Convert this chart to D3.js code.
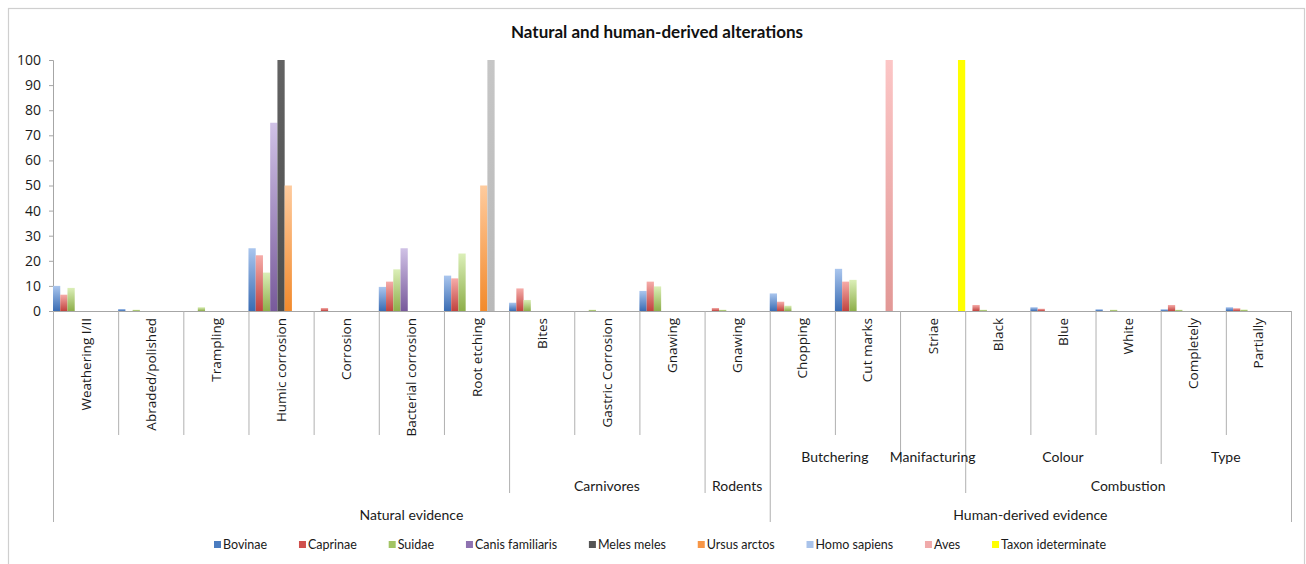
<!DOCTYPE html>
<html>
<head>
<meta charset="utf-8">
<script src="https://cdn.jsdelivr.net/npm/d3@7"></script>
<style>
  body { margin: 0; background: #fff; }
  svg { display: block; }
</style>
</head>
<body>
<div id="chart"></div>
<script>
'use strict';

// leaf categories of the x axis
const categories = ["Weathering I/II", "Abraded/polished", "Trampling", "Humic corrosion", "Corrosion",
  "Bacterial corrosion", "Root etching", "Bites", "Gastric Corrosion", "Gnawing", "Gnawing",
  "Chopping", "Cut marks", "Striae", "Black", "Blue", "White", "Completely", "Partially"];

// group levels (one entry per category, "" = empty cell)
const level2 = ["", "", "", "", "", "", "", "", "", "", "", "Butchering", "Butchering", "Manifacturing",
  "Colour", "Colour", "Colour", "Type", "Type"];
const level3 = ["", "", "", "", "", "", "", "Carnivores", "Carnivores", "Carnivores", "Rodents",
  "", "", "", "Combustion", "Combustion", "Combustion", "Combustion", "Combustion"];
const level4 = ["Natural evidence", "Natural evidence", "Natural evidence", "Natural evidence", "Natural evidence",
  "Natural evidence", "Natural evidence", "Natural evidence", "Natural evidence", "Natural evidence", "Natural evidence",
  "Human-derived evidence", "Human-derived evidence", "Human-derived evidence", "Human-derived evidence",
  "Human-derived evidence", "Human-derived evidence", "Human-derived evidence", "Human-derived evidence"];

const seriesNames = ["Bovinae", "Caprinae", "Suidae", "Canis familiaris", "Meles meles", "Ursus arctos",
  "Homo sapiens", "Aves", "Taxon ideterminate"];

const bovinae  = [10, 0.8, 0, 25, 0, 9.6, 14.1, 3.3, 0, 8, 0, 7, 16.8, 0, 0, 1.5, 0.7, 0.7, 1.5];
const caprinae = [6.5, 0, 0, 22.2, 1.2, 11.7, 13, 9, 0, 11.7, 1.2, 3.7, 11.7, 0, 2.4, 0.9, 0, 2.4, 1.1];
const suidae   = [9.2, 0.5, 1.5, 15.3, 0, 16.6, 22.9, 4.4, 0.5, 9.8, 0.5, 2.1, 12.4, 0, 0.5, 0, 0.5, 0.5, 0.6];
const canis    = [0, 0, 0, 75, 0, 25, 0, 0, 0, 0, 0, 0, 0, 0, 0, 0, 0, 0, 0];
const meles    = [0, 0, 0, 100, 0, 0, 0, 0, 0, 0, 0, 0, 0, 0, 0, 0, 0, 0, 0];
const ursus    = [0, 0, 0, 50, 0, 0, 50, 0, 0, 0, 0, 0, 0, 0, 0, 0, 0, 0, 0];
const homo     = [0, 0, 0, 0, 0, 0, 100, 0, 0, 0, 0, 0, 0, 0, 0, 0, 0, 0, 0];
const aves     = [0, 0, 0, 0, 0, 0, 0, 0, 0, 0, 0, 0, 100, 0, 0, 0, 0, 0, 0];
const taxon    = [0, 0, 0, 0, 0, 0, 0, 0, 0, 0, 0, 0, 0, 100, 0, 0, 0, 0, 0];

const yTicks = [0, 10, 20, 30, 40, 50, 60, 70, 80, 90, 100];

const allSeries = [bovinae, caprinae, suidae, canis, meles, ursus, homo, aves, taxon];

// bar gradients [top, bottom] and legend swatches
const barColors = [
  ["#aac6ee", "#3a6cb3"], ["#f6aca9", "#c1423e"], ["#dbefb8", "#8dae4a"],
  ["#d0c2e6", "#785a9b"], ["#636363", "#4e4e4e"], ["#fecb9e", "#f28a2c"],
  ["#c6c6c6", "#b9b9b9"], ["#fcc6c6", "#e29896"], ["#ffff00", "#ffff00"]];
const legendColors = ["#4a7cc0", "#d0504c", "#a3c464", "#8e72b0", "#555555", "#f79646",
  "#a9c3ea", "#f0aaaa", "#ffff00"];

const W = 1306, H = 564;
const plot = {left: 53, right: 1291, top: 60, bottom: 311};

const svg = d3.select("#chart").append("svg").attr("width", W).attr("height", H);

// gradients
const defs = svg.append("defs");
barColors.forEach((c, i) => {
  const g = defs.append("linearGradient").attr("id", "grad" + i)
    .attr("x1", 0).attr("y1", 0).attr("x2", 0).attr("y2", 1);
  g.append("stop").attr("offset", "0%").attr("stop-color", c[0]);
  g.append("stop").attr("offset", "100%").attr("stop-color", c[1]);
});

// outer frame
svg.append("rect").attr("x", 8.5).attr("y", 8.5).attr("width", 1296).attr("height", 600)
  .attr("fill", "none").attr("stroke", "#cfcfcf").attr("stroke-width", 1.2);

// title
svg.append("text").attr("x", 657).attr("y", 38).attr("text-anchor", "middle")
  .style("font-family", "Lato, sans-serif").style("font-weight", "bold").style("font-size", "17px")
  .attr("fill", "#111").text("Natural and human-derived alterations");

const x = d3.scaleBand().domain(d3.range(categories.length)).range([plot.left, plot.right]).padding(0);
const xs = d3.scaleBand().domain(d3.range(seriesNames.length)).range([0, x.bandwidth()]).padding(0);
const y = d3.scaleLinear().domain([0, 100]).range([plot.bottom, plot.top]);

// y axis
const yAxis = svg.append("g").attr("transform", "translate(" + plot.left + ",0)")
  .call(d3.axisLeft(y).tickValues(yTicks).tickSize(4).tickPadding(8));
yAxis.select(".domain").attr("stroke", "#a6a6a6");
yAxis.selectAll(".tick line").attr("stroke", "#a6a6a6");
yAxis.selectAll(".tick text").style("font-family", "'Open Sans', sans-serif").style("font-size", "14px")
  .attr("fill", "#1a1a1a");

// bars
allSeries.forEach((vals, s) => {
  svg.append("g").selectAll("rect")
    .data(vals.map((v, i) => ({i: i, v: v})).filter(d => d.v > 0))
    .enter().append("rect")
    .attr("x", d => x(d.i) + xs(s))
    .attr("y", d => y(d.v))
    .attr("width", xs.bandwidth())
    .attr("height", d => plot.bottom - y(d.v))
    .attr("fill", "url(#grad" + s + ")");
});

// category axis line
svg.append("line").attr("x1", plot.left).attr("x2", plot.right).attr("y1", plot.bottom + 0.5).attr("y2", plot.bottom + 0.5)
  .attr("stroke", "#a6a6a6");

// row bottoms of the multi-level category axis
const rowBottom = [435, 464, 493, 522];
const levels = [categories, level2, level3, level4];

// boundaries: extend to the deepest level where neighbours differ
d3.range(categories.length + 1).forEach(b => {
  let depth = 0;
  if (b === 0 || b === categories.length) depth = 3;
  else {
    for (let l = 3; l >= 1; l--) {
      if (levels[l][b - 1] !== levels[l][b]) { depth = l; break; }
    }
  }
  const bx = b === categories.length ? plot.right : x(b);
  svg.append("line").attr("x1", bx + 0.5).attr("x2", bx + 0.5)
    .attr("y1", plot.bottom).attr("y2", rowBottom[depth])
    .attr("stroke", "#b0b0b0");
});

// leaf labels (rotated)
svg.append("g").selectAll("text").data(categories).enter().append("text")
  .attr("transform", (d, i) => "translate(" + (x(i) + x.bandwidth() / 2 + 5) + ",318) rotate(-90)")
  .attr("text-anchor", "end")
  .style("font-family", "'Open Sans', sans-serif").style("font-size", "13.5px")
  .attr("fill", "#1a1a1a").text(d => d);

// group labels
const labelY = [0, 462, 491, 520];
[1, 2, 3].forEach(l => {
  const groups = [];
  levels[l].forEach((name, i) => {
    const last = groups[groups.length - 1];
    if (last && last.name === name) last.end = i;
    else groups.push({name: name, start: i, end: i});
  });
  svg.append("g").selectAll("text").data(groups.filter(g => g.name !== "")).enter().append("text")
    .attr("x", g => (x(g.start) + x(g.end) + x.bandwidth()) / 2)
    .attr("y", labelY[l])
    .attr("text-anchor", "middle")
    .style("font-family", "Lato, sans-serif").style("font-size", "14px")
    .attr("fill", "#1a1a1a").text(g => g.name);
});

// legend
const legend = svg.append("g");
const items = legend.selectAll("g").data(seriesNames).enter().append("g");
items.append("rect").attr("width", 7).attr("height", 7).attr("y", -8)
  .attr("fill", (d, i) => legendColors[i]);
items.append("text").attr("x", 9).attr("y", 0)
  .style("font-family", "Lato, sans-serif").style("font-size", "12.5px")
  .attr("fill", "#1a1a1a").text(d => d);
const widths = [];
items.each(function() { widths.push(9 + d3.select(this).select("text").node().getComputedTextLength()); });
const span = 1106 - 214;
const gap = (span - d3.sum(widths)) / (widths.length - 1);
let lx = 214;
items.each(function(d, i) {
  d3.select(this).attr("transform", "translate(" + lx + ",549)");
  lx += widths[i] + gap;
});
</script>
</body>
</html>
